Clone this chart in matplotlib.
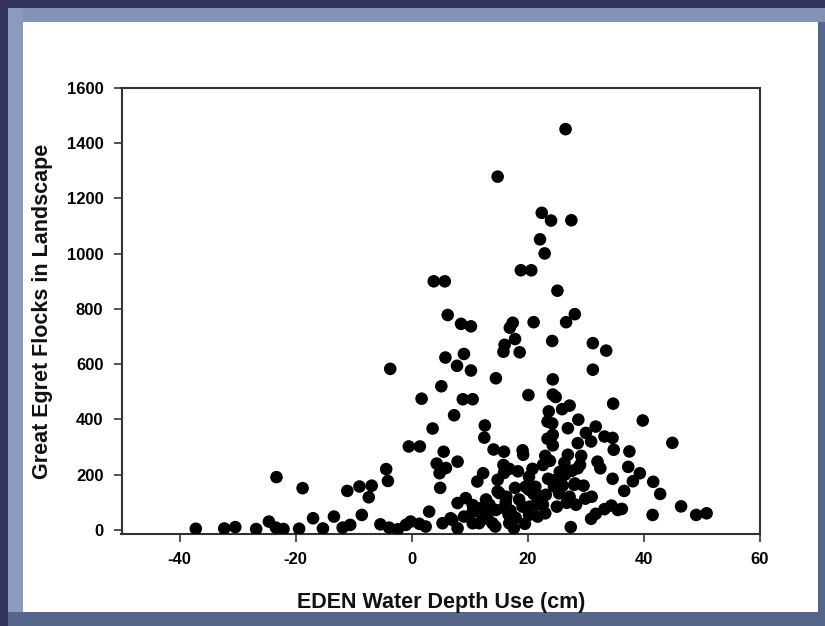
import matplotlib
matplotlib.use('Agg')
import matplotlib.pyplot as plt
from matplotlib.patches import Rectangle

plt.rcParams['font.family'] = ['Liberation Sans', 'DejaVu Sans']
plt.rcParams['axes.unicode_minus'] = False

# Water depth (cm) and flock counts
depth = [
    -37.2, -32.3, -30.4, -26.8, -24.6, -23.3, -23.4, -22.1, -19.4, -18.8,
    -17.0, -15.3, -13.4, -11.9, -11.1, -10.6, -9.0, -8.6, -7.4, -6.9,
    -5.4, -4.4, -4.1, -3.7, -3.9, -2.4, -1.0, -0.2, -0.5, 1.4,
    1.3, 2.4, 1.7, 3.0, 3.6, 3.8, 5.7, 6.2, 5.8, 5.1,
    4.3, 4.8, 4.9, 5.5, 5.9, 5.3, 7.0, 7.3, 7.9, 7.8,
    8.5, 9.0, 10.2, 10.2, 8.8, 10.5, 7.9, 9.3, 10.5, 7.9,
    6.7, 10.5, 9.0, 10.5, 11.3, 12.3, 12.5, 12.6, 12.6, 13.1,
    13.4, 13.9, 14.4, 14.1, 14.5, 14.8, 14.8, 14.8, 15.8, 15.9,
    15.9, 15.9, 16.3, 16.7, 15.8, 16.0, 16.9, 17.4, 17.8, 18.6,
    16.8, 17.8, 17.6, 17.9, 18.3, 19.1, 19.2, 18.8, 20.6, 20.1,
    21.0, 19.6, 20.3, 20.2, 20.8, 21.3, 21.7, 22.1, 22.4, 22.9,
    24.0, 27.5, 26.5, 25.1, 24.2, 26.6, 28.1, 24.3, 24.3, 24.8,
    23.6, 25.9, 27.2, 23.4, 24.2, 24.3, 23.4, 24.3, 23.0, 22.6,
    23.5, 23.1, 22.6, 25.0, 25.4, 25.8, 26.3, 26.9, 26.9, 27.6,
    28.1, 28.6, 28.7, 29.2, 29.0, 30.0, 30.9, 29.6, 29.9, 31.0,
    27.2, 26.7, 27.4, 31.2, 31.2, 33.5, 31.7, 32.0, 32.5, 33.2,
    34.6, 34.8, 34.7, 34.6, 37.5, 37.3, 36.6, 38.1, 39.3, 39.8,
    41.6, 42.8, 41.5, 44.9, 46.4, 49.0, 50.8, 30.9, 31.7, 33.2,
    34.4, 36.2, 35.5, 11.9, 14.5, 11.6, 12.0, 24.8, 20.2, 24.5,
    15.1, 22.2, 19.1, 21.4, 28.3, 20.2, 16.8, 28.0, 28.6, 18.5,
    21.0, 26.0, 23.0, 16.2, 19.5, 12.8, 25.5, 17.0, 23.8, 26.4,
]
flocks = [
    4, 5, 10, 3, 30, 191, 8, 3, 4, 151,
    42, 5, 48, 8, 141, 18, 157, 54, 118, 160,
    20, 220, 177, 583, 8, 2, 18, 30, 302, 302,
    22, 12, 475, 66, 367, 900, 900, 778, 624, 520,
    240, 205, 152, 283, 224, 24, 36, 415, 247, 594,
    746, 637, 737, 577, 473, 473, 97, 115, 90, 6,
    42, 24, 48, 66, 175, 205, 334, 378, 69, 40,
    91, 24, 12, 291, 549, 1279, 139, 181, 235, 283,
    206, 79, 120, 55, 645, 670, 732, 750, 691, 643,
    221, 152, 6, 44, 212, 288, 272, 940, 940, 488,
    752, 156, 84, 192, 221, 156, 48, 1052, 1148, 1001,
    1120, 1121, 1451, 866, 684, 752, 781, 545, 490, 481,
    429, 437, 450, 392, 385, 344, 330, 306, 268, 235,
    185, 127, 91, 84, 132, 192, 243, 272, 368, 214,
    168, 314, 399, 268, 235, 351, 320, 160, 113, 120,
    120, 98, 10, 676, 580, 649, 374, 247, 223, 338,
    333, 290, 457, 185, 284, 228, 141, 176, 205, 396,
    174, 130, 54, 315, 85, 54, 60, 40, 58, 75,
    88, 76, 72, 79, 72, 24, 58, 181, 145, 157,
    133, 121, 84, 91, 91, 54, 24, 163, 223, 110,
    130, 160, 60, 100, 22, 110, 210, 70, 250, 200,
]

X_TICKS = [-40, -20, 0, 20, 40, 60]
Y_TICKS = [0, 200, 400, 600, 800, 1000, 1200, 1400, 1600]

W, H = 825, 626
fig = plt.figure(figsize=(W / 100, H / 100), dpi=100)
fig.patch.set_facecolor('#34355e')


def px_rect(x0, y0, x1, y1, color):
    # rectangle given in pixel coords measured from the top left corner
    fig.add_artist(Rectangle((x0 / W, 1 - y1 / H), (x1 - x0) / W, (y1 - y0) / H,
                             transform=fig.transFigure, facecolor=color,
                             edgecolor='none', zorder=0))


# slide frame: bevel then white panel
px_rect(8, 8, W, H, '#56668a')
px_rect(8, 8, W, 22, '#8193b6')
px_rect(8, 8, 23, 612, '#8a9bbf')
px_rect(23, 22, 818, 612, 'white')

ax = fig.add_axes([121.5 / W, 1 - 534 / H, (760 - 121.5) / W, (534 - 88) / H])
ax.set_facecolor('white')
ax.scatter(depth, flocks, s=82, color='black', edgecolors='none', zorder=3)

ax.set_xlim(-50, 60)
ax.set_ylim(-15, 1600)
ax.set_xticks(X_TICKS)
ax.set_yticks(Y_TICKS)
ax.tick_params(direction='out', length=6, width=1.2, color='#333333',
               labelsize=12, pad=7)
for lab in ax.get_xticklabels() + ax.get_yticklabels():
    lab.set_fontweight('bold')
for sp in ax.spines.values():
    sp.set_linewidth(1.5)
    sp.set_color('#333333')

ax.set_xlabel('EDEN Water Depth Use (cm)', fontsize=15.5, fontweight='bold',
              labelpad=18, color='#111111')
ax.set_ylabel('Great Egret Flocks in Landscape', fontsize=15.5, fontweight='bold',
              labelpad=10, color='#111111')

fig.savefig('out.png', dpi=100, facecolor=fig.get_facecolor())
